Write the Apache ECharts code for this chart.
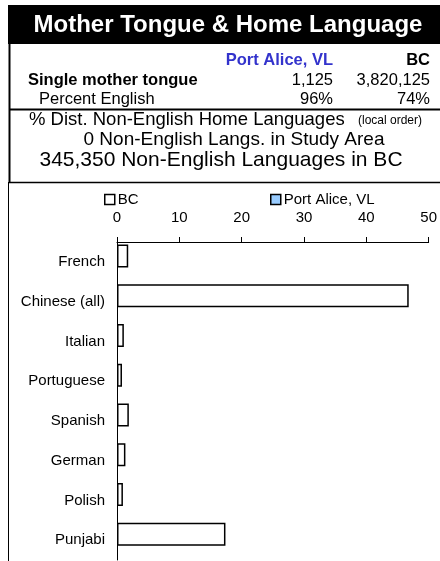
<!DOCTYPE html>
<html><head><meta charset="utf-8">
<script src="https://cdn.jsdelivr.net/npm/echarts@6/dist/echarts.min.js"></script>
<style>html,body{margin:0;padding:0;background:#fff}#c{width:440px;height:561px}</style>
</head><body><div id="c"></div>
<script>
const categories = ['French','Chinese (all)','Italian','Portuguese','Spanish','German','Polish','Punjabi'];
const bcValues = [1.8, 46.8, 1.1, 0.8, 1.9, 1.35, 0.95, 17.4];
const localValues = [0, 0, 0, 0, 0, 0, 0, 0];
const seriesNames = ['BC', 'Port Alice, VL'];
const xTicks = {min: 0, max: 50, interval: 10};
const titleText = 'Mother Tongue & Home Language';
const tableHeader = ['Port Alice, VL', 'BC'];
const tableRows = [
  ['Single mother tongue', '1,125', '3,820,125'],
  ['Percent English', '96%', '74%']
];
const infoLines = ['% Dist. Non-English Home Languages', '0 Non-English Langs. in Study Area', '345,350 Non-English Languages in BC'];
const infoNote = '(local order)';

const FF = '"Liberation Sans", Arial, sans-serif';
const chart = echarts.init(document.getElementById('c'), null, {renderer: 'canvas'});

const graphics = [
  {type:'rect', shape:{x:8, y:5, width:432, height:39}, style:{fill:'#000'}},
  {type:'text', x:228, y:25, style:{text:titleText, fill:'#fff', font:'bold 24px ' + FF, textAlign:'center', textVerticalAlign:'middle'}},
  {type:'line', shape:{x1:9.5, y1:44, x2:9.5, y2:182}, style:{stroke:'#000', lineWidth:2}},
  {type:'line', shape:{x1:9, y1:109.5, x2:440, y2:109.5}, style:{stroke:'#000', lineWidth:2}},
  {type:'line', shape:{x1:9, y1:182.5, x2:440, y2:182.5}, style:{stroke:'#000', lineWidth:1.5}},
  {type:'line', shape:{x1:8.5, y1:182, x2:8.5, y2:561}, style:{stroke:'#000', lineWidth:1}},
  {type:'text', x:333, y:60, style:{text:tableHeader[0], fill:'#3333cc', font:'bold 16.5px ' + FF, textAlign:'right', textVerticalAlign:'middle'}},
  {type:'text', x:430, y:60, style:{text:tableHeader[1], fill:'#000', font:'bold 16.5px ' + FF, textAlign:'right', textVerticalAlign:'middle'}}
];
const rowY = [80, 99];
tableRows.forEach((r, i) => {
  graphics.push({type:'text', x: i === 0 ? 28 : 39, y: rowY[i], style:{text:r[0], fill:'#000', font:(i === 0 ? 'bold ' : '') + '16.5px ' + FF, textVerticalAlign:'middle'}});
  graphics.push({type:'text', x:333, y: rowY[i], style:{text:r[1], fill:'#000', font:'16.5px ' + FF, textAlign:'right', textVerticalAlign:'middle'}});
  graphics.push({type:'text', x:430, y: rowY[i], style:{text:r[2], fill:'#000', font:'16.5px ' + FF, textAlign:'right', textVerticalAlign:'middle'}});
});
graphics.push({type:'text', x:29, y:120, style:{text:infoLines[0], fill:'#000', font:'18.5px ' + FF, textVerticalAlign:'middle'}});
graphics.push({type:'text', x:358, y:121, style:{text:infoNote, fill:'#000', font:'12px ' + FF, textVerticalAlign:'middle'}});
graphics.push({type:'text', x:234, y:140, style:{text:infoLines[1], fill:'#000', font:'19px ' + FF, textAlign:'center', textVerticalAlign:'middle'}});
graphics.push({type:'text', x:221, y:160, style:{text:infoLines[2], fill:'#000', font:'21px ' + FF, textAlign:'center', textVerticalAlign:'middle'}});

const legendCommon = {itemWidth:10, itemHeight:10, itemGap:4, icon:'rect', padding:0, top:192,
  textStyle:{fontSize:15, color:'#000', fontFamily:FF, padding:[0,0,0,-2]}};
const option = {
  animation: false,
  textStyle: {fontFamily: FF},
  legend: [
    Object.assign({data:[seriesNames[0]], left:104, itemStyle:{borderColor:'#000', borderWidth:1.5}}, legendCommon),
    Object.assign({data:[seriesNames[1]], left:270, itemStyle:{borderColor:'#000', borderWidth:1.5}}, legendCommon)
  ],
  grid: {left:117, right:10.5, top:242, bottom:1, containLabel:false},
  xAxis: {
    type:'value', position:'top', min:xTicks.min, max:xTicks.max, interval:xTicks.interval,
    axisLine:{show:true, lineStyle:{color:'#000', width:1}},
    axisTick:{show:true, length:5, lineStyle:{color:'#000'}},
    splitLine:{show:false},
    axisLabel:{fontSize:15, color:'#000', margin:17, fontFamily:FF}
  },
  yAxis: {
    type:'category', data:categories, inverse:true,
    axisLine:{show:true, lineStyle:{color:'#000', width:1}},
    axisTick:{show:false},
    axisLabel:{fontSize:15, color:'#000', margin:12, fontFamily:FF}
  },
  series: [
    {name:seriesNames[0], type:'bar', data:bcValues, barWidth:23, barGap:'-48%',
     itemStyle:{color:'#fff', borderColor:'#000', borderWidth:1.5}},
    {name:seriesNames[1], type:'bar', data:localValues, barWidth:23, barGap:'-48%',
     itemStyle:{color:'#99ccff', borderColor:'#000', borderWidth:0}}
  ],
  graphic: graphics
};
chart.setOption(option);
</script></body></html>
